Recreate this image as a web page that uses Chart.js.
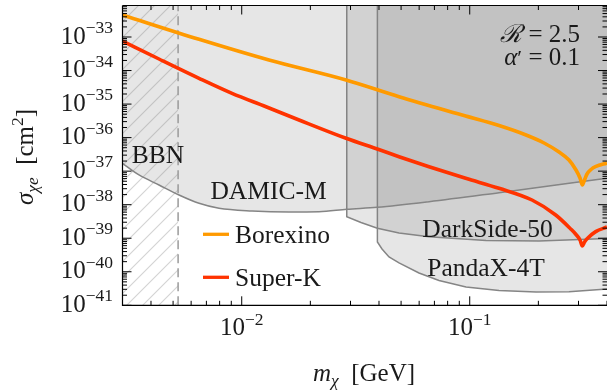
<!DOCTYPE html>
<html><head><meta charset="utf-8">
<script src="https://cdn.jsdelivr.net/npm/chart.js@4.4.0/dist/chart.umd.min.js"></script>
<style>html,body{margin:0;padding:0;background:#fff;overflow:hidden}</style>
</head><body>
<canvas id="c" width="607" height="390"></canvas>
<script>
// ---- axis ranges ----
const xMin = 0.003, xMax = 0.4, yMin = 1e-41, yMax = 8.7e-33;
// ---- tick labels ----
const xTickValues = [1e-2, 1e-1];
const xTickExponents = ['\u22122', '\u22121'];
const yTickValues = [1e-41, 1e-40, 1e-39, 1e-38, 1e-37, 1e-36, 1e-35, 1e-34, 1e-33];
const yTickExponents = ['\u221241', '\u221240', '\u221239', '\u221238', '\u221237', '\u221236', '\u221235', '\u221234', '\u221233'];
// ---- series ----
const borexinoMass = [0.003, 0.0065, 0.01317, 0.02868, 0.04897, 0.0960, 0.1344, 0.1766, 0.2118, 0.2464, 0.2725, 0.2925, 0.3046, 0.3118, 0.3188, 0.3269, 0.3404, 0.3580, 0.4];
const borexinoSigma = [4.53e-33, 8.54e-34, 2.06e-34, 5.22e-35, 1.66e-35, 4.42e-36, 2.30e-36, 1.20e-36, 6.92e-37, 3.73e-37, 2.15e-37, 1.08e-37, 6.25e-38, 3.87e-38, 5.45e-38, 8.22e-38, 1.12e-37, 1.38e-37, 1.75e-37];
const superKMass = [0.003, 0.004338, 0.0065, 0.009067, 0.01278, 0.01784, 0.02868, 0.03961, 0.04897, 0.06631, 0.0960, 0.1344, 0.1876, 0.2383, 0.2773, 0.2925, 0.3046, 0.3118, 0.3188, 0.3280, 0.3569, 0.4];
const superKSigma = [7.60e-34, 2.21e-34, 5.87e-35, 2.09e-35, 8.35e-36, 3.35e-36, 9.54e-37, 4.49e-37, 2.70e-37, 1.36e-37, 6.12e-38, 3.08e-38, 1.38e-38, 4.93e-39, 1.89e-39, 1.29e-39, 8.85e-40, 5.87e-40, 7.73e-40, 9.82e-40, 1.57e-39, 2.16e-39];
const damicMass = [0.003, 0.003544, 0.004338, 0.005309, 0.0065, 0.007951, 0.0111, 0.01612, 0.02183, 0.02889, 0.0393, 0.06631, 0.1344, 0.4];
const damicSigma = [1.71e-37, 7.69e-38, 3.87e-38, 1.95e-38, 1.10e-38, 7.81e-39, 6.49e-39, 6.06e-39, 6.18e-39, 7.29e-39, 8.36e-39, 1.23e-38, 2.28e-38, 6.12e-38];
const darkSideMass = [0.02889, 0.02889, 0.03335, 0.03936, 0.04897, 0.06631, 0.1179, 0.2013, 0.4];
const darkSideSigma = [8.7e-33, 4.38e-39, 2.94e-39, 1.98e-39, 1.43e-39, 1.11e-39, 8.57e-40, 8.28e-40, 9.82e-40];
const pandaMass = [0.03936, 0.03936, 0.04124, 0.04426, 0.04897, 0.05991, 0.07333, 0.09634, 0.1344, 0.1953, 0.2725, 0.4];
const pandaSigma = [8.7e-33, 7.73e-40, 4.78e-40, 2.76e-40, 1.83e-40, 9.20e-41, 5.50e-41, 3.52e-41, 2.77e-41, 2.49e-41, 2.55e-41, 3.07e-41];
const bbnMass = 0.00526;

const ORANGE = '#ff9a00', RED = '#ff3300', EDGE = '#858585', FILL = 'rgba(128,128,128,0.2)';
const SERIF = '"Liberation Serif","DejaVu Serif",serif';
const F = s => `${s}px ${SERIF}`, FI = s => `italic ${s}px ${SERIF}`;
const pts = (xs, ys) => xs.map((x, i) => ({x, y: ys[i]}));

// hatch pattern for BBN
const pc = document.createElement('canvas'); pc.width = 16; pc.height = 16;
const pctx = pc.getContext('2d');
pctx.strokeStyle = 'rgba(128,128,128,0.35)'; pctx.lineWidth = 1.1;
pctx.beginPath();
pctx.moveTo(0, 16); pctx.lineTo(16, 0);
pctx.moveTo(-4, 4); pctx.lineTo(4, -4);
pctx.moveTo(12, 20); pctx.lineTo(20, 12);
pctx.stroke();
const canvas = document.getElementById('c');
const hatch = canvas.getContext('2d').createPattern(pc, 'repeat');

function drawRuns(ctx, runs, x, y, align) {
  let w = 0;
  for (const r of runs) { ctx.font = r.f; w += ctx.measureText(r.t).width; }
  let cx = align === 'center' ? x - w / 2 : align === 'right' ? x - w : x;
  for (const r of runs) { ctx.font = r.f; ctx.fillText(r.t, cx, y + (r.dy || 0)); cx += ctx.measureText(r.t).width; }
}

const decor = {
  id: 'decor',
  afterDraw(chart) {
    const ctx = chart.ctx, a = chart.chartArea, xs = chart.scales.x, ys = chart.scales.y;
    ctx.save();
    ctx.strokeStyle = '#000'; ctx.lineWidth = 1.2;
    ctx.beginPath();
    ctx.moveTo(a.left, a.top); ctx.lineTo(a.left, a.bottom); ctx.lineTo(a.right, a.bottom);
    ctx.moveTo(a.left, a.top); ctx.lineTo(a.right, a.top);
    ctx.stroke();
    ctx.lineWidth = 1;
    const xt = (v, len) => { const p = xs.getPixelForValue(v); if (p < a.left - 0.5 || p > a.right + 0.5) return;
      ctx.moveTo(p, a.bottom); ctx.lineTo(p, a.bottom - len); ctx.moveTo(p, a.top); ctx.lineTo(p, a.top + len); };
    const yt = (v, len) => { const p = ys.getPixelForValue(v); if (p < a.top - 0.5 || p > a.bottom + 0.5) return;
      ctx.moveTo(a.left, p); ctx.lineTo(a.left + len, p); ctx.moveTo(a.right, p); ctx.lineTo(a.right - len, p); };
    ctx.beginPath();
    for (let d = -3; d <= -1; d++) for (let k = 2; k <= 9; k++) { const v = k * Math.pow(10, d); if (v > xMin * 1.01 && v <= xMax) xt(v, 4.5); }
    xTickValues.forEach(v => xt(v, 9));
    for (let d = -41; d <= -33; d++) for (let k = 2; k <= 9; k++) { const v = k * Math.pow(10, d); if (v <= yMax) yt(v, 4.5); }
    yTickValues.forEach(v => yt(v, 9));
    ctx.stroke();

    ctx.fillStyle = '#1a1a1a'; ctx.textBaseline = 'alphabetic'; ctx.textAlign = 'left';
    // tick labels
    xTickValues.forEach((v, i) => {
      const p = xs.getPixelForValue(v);
      drawRuns(ctx, [{t: '10', f: F(25)}, {t: xTickExponents[i], f: F(17.5), dy: -10}], p, 335, 'center');
    });
    yTickValues.forEach((v, i) => {
      const p = ys.getPixelForValue(v);
      drawRuns(ctx, [{t: '10', f: F(25)}, {t: yTickExponents[i], f: F(17.5), dy: -10.5}], 113, p + 6.5, 'right');
    });
    // axis labels
    drawRuns(ctx, [{t: 'm', f: FI(25)}, {t: '\u03c7', f: FI(17.5), dy: 5}, {t: '  [GeV]', f: F(25)}], 364, 381, 'center');
    ctx.save();
    ctx.translate(33, 157); ctx.rotate(-Math.PI / 2);
    drawRuns(ctx, [{t: '\u03c3', f: FI(25)}, {t: '\u03c7e', f: FI(17.5), dy: 5}, {t: '  [cm', f: F(25)}, {t: '2', f: F(17.5), dy: -10}, {t: ']', f: F(25)}], 0, 0, 'center');
    ctx.restore();
    // region labels
    drawRuns(ctx, [{t: 'BBN', f: F(25.5)}], 158, 162.5, 'center');
    drawRuns(ctx, [{t: 'DAMIC-M', f: F(25.5)}], 268.5, 198.5, 'center');
    drawRuns(ctx, [{t: 'DarkSide-50', f: F(25.5)}], 487.5, 236.5, 'center');
    drawRuns(ctx, [{t: 'PandaX-4T', f: F(25.5)}], 486, 276, 'center');
    // parameters
    drawRuns(ctx, [{t: '\u211b', f: FI(25)}, {t: ' = 2.5', f: F(25)}], 580, 41.7, 'right');
    drawRuns(ctx, [{t: '\u03b1', f: FI(25)}, {t: '\u2032', f: F(22)}, {t: ' = 0.1', f: F(25)}], 580, 65, 'right');
    // legend
    ctx.lineWidth = 3.3;
    ctx.strokeStyle = ORANGE; ctx.beginPath(); ctx.moveTo(203, 234.3); ctx.lineTo(229, 234.3); ctx.stroke();
    ctx.strokeStyle = RED; ctx.beginPath(); ctx.moveTo(203, 277.3); ctx.lineTo(229, 277.3); ctx.stroke();
    drawRuns(ctx, [{t: 'Borexino', f: F(25.5)}], 235, 243.3, 'left');
    drawRuns(ctx, [{t: 'Super-K', f: F(25.5)}], 235, 286, 'left');
    ctx.restore();
  }
};

new Chart(canvas, {
  type: 'line',
  data: {
    datasets: [
      {label: 'Borexino', data: pts(borexinoMass, borexinoSigma), borderColor: ORANGE, borderWidth: 3.6, pointRadius: 0, fill: false, cubicInterpolationMode: 'monotone'},
      {label: 'Super-K', data: pts(superKMass, superKSigma), borderColor: RED, borderWidth: 3.6, pointRadius: 0, fill: false, cubicInterpolationMode: 'monotone'},
      {label: 'BBN edge', data: [{x: bbnMass, y: yMin}, {x: bbnMass, y: yMax}], borderColor: '#9a9a9a', borderDash: [9, 5], borderWidth: 1.5, pointRadius: 0, fill: false},
      {label: 'BBN', data: [{x: xMin, y: yMax}, {x: bbnMass, y: yMax}], borderColor: 'rgba(0,0,0,0)', borderWidth: 1, backgroundColor: hatch, pointRadius: 0, fill: 'start'},
      {label: 'DAMIC-M', data: pts(damicMass, damicSigma), borderColor: EDGE, borderWidth: 1.5, backgroundColor: FILL, pointRadius: 0, fill: 'end', cubicInterpolationMode: 'monotone'},
      {label: 'DarkSide-50', data: pts(darkSideMass, darkSideSigma), borderColor: EDGE, borderWidth: 1.5, backgroundColor: FILL, pointRadius: 0, fill: 'end', tension: 0},
      {label: 'PandaX-4T', data: pts(pandaMass, pandaSigma), borderColor: EDGE, borderWidth: 1.5, backgroundColor: FILL, pointRadius: 0, fill: 'end', tension: 0}
    ]
  },
  options: {
    responsive: false, animation: false, events: [],
    layout: {padding: {left: 122.5, right: 0, top: 5.5, bottom: 84.7}},
    plugins: {legend: {display: false}, tooltip: {enabled: false}},
    scales: {
      x: {type: 'logarithmic', min: xMin, max: xMax, display: false},
      y: {type: 'logarithmic', min: yMin, max: yMax, display: false}
    }
  },
  plugins: [decor]
});
</script>
</body></html>
